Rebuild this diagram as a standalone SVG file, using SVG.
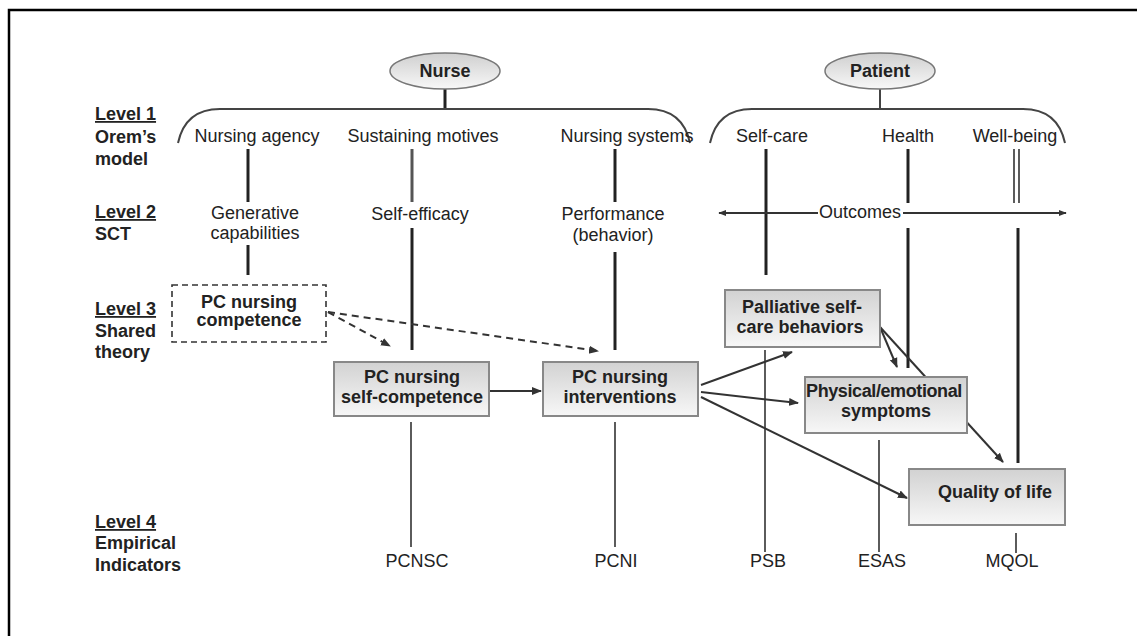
<svg xmlns="http://www.w3.org/2000/svg" width="1137" height="636" viewBox="0 0 1137 636">
<style>
text{font-family:"Liberation Sans",Arial,sans-serif;font-size:18px;fill:#222;}
.b{font-weight:bold;}
.c{text-anchor:middle;}
.u{text-decoration:underline;}
.thick{stroke:#222;stroke-width:3;fill:none;}
.gray{stroke:#555;stroke-width:3;fill:none;}
.thin{stroke:#333;stroke-width:1.6;fill:none;}
.arr{stroke:#333;stroke-width:2;fill:none;marker-end:url(#ah);}
.dash{stroke:#333;stroke-width:2;fill:none;stroke-dasharray:7 5;marker-end:url(#ah);}
.box{fill:url(#g);stroke:#888;stroke-width:2;}
.brace{stroke:#444;stroke-width:2;fill:none;}
</style>
<defs>
<linearGradient id="g" x1="0" y1="0" x2="0" y2="1">
<stop offset="0" stop-color="#d2d2d2"/>
<stop offset="1" stop-color="#f7f7f7"/>
</linearGradient>
<linearGradient id="ge" x1="0" y1="0" x2="0" y2="1">
<stop offset="0" stop-color="#cfcfcf"/>
<stop offset="1" stop-color="#f8f8f8"/>
</linearGradient>
<marker id="ah" viewBox="0 0 10 10" refX="9" refY="5" markerWidth="5" markerHeight="5" orient="auto" markerUnits="strokeWidth">
<path d="M0,1 L10,5 L0,9 Z" fill="#333"/>
</marker>
<marker id="endm" viewBox="0 0 10 10" refX="9" refY="5" markerWidth="4" markerHeight="4" orient="auto" markerUnits="strokeWidth">
<path d="M0,1 L10,5 L0,9 Z" fill="#333"/>
</marker>
</defs>
<rect width="1137" height="636" fill="#fff"/>
<path d="M9,636 V10 H1137" stroke="#000" stroke-width="2.5" fill="none"/>

<g id="levels">
<text class="b u" x="95" y="120">Level 1</text>
<text class="b" x="95" y="143">Orem’s</text>
<text class="b" x="95" y="165">model</text>
<text class="b u" x="95" y="218">Level 2</text>
<text class="b" x="95" y="240">SCT</text>
<text class="b u" x="95" y="315">Level 3</text>
<text class="b" x="95" y="337">Shared</text>
<text class="b" x="95" y="358">theory</text>
<text class="b u" x="95" y="528">Level 4</text>
<text class="b" x="95" y="549">Empirical</text>
<text class="b" x="95" y="571">Indicators</text>
</g>

<g id="connectors">
<line class="thick" x1="445" y1="89" x2="445" y2="109"/>
<line class="brace" x1="880" y1="89" x2="880" y2="109"/>
<path class="brace" d="M178,143 C183,120 198,109 220,109 H648 C670,109 685,120 690,143"/>
<path class="brace" d="M710,143 C715,120 730,109 752,109 H1023 C1045,109 1060,120 1065,143"/>
<line class="thick" x1="248" y1="149" x2="248" y2="202"/>
<line class="gray" x1="412" y1="149" x2="412" y2="202"/>
<line class="thick" x1="615" y1="149" x2="615" y2="202"/>
<line class="thick" x1="766" y1="149" x2="766" y2="275"/>
<line class="thick" x1="908" y1="149" x2="908" y2="203"/>
<line class="thin" x1="1014" y1="149" x2="1014" y2="203"/>
<line class="thin" x1="1019" y1="149" x2="1019" y2="203"/>
<line class="thin" x1="818" y1="213" x2="719" y2="213" marker-end="url(#endm)" style="stroke-width:2"/>
<line class="thin" x1="903" y1="213" x2="1066" y2="213" marker-end="url(#endm)" style="stroke-width:2"/>
<line class="thick" x1="248" y1="245" x2="248" y2="275"/>
<line class="thick" x1="412" y1="228" x2="412" y2="350"/>
<line class="thick" x1="615" y1="252" x2="615" y2="350"/>
<line class="thick" x1="908" y1="228" x2="908" y2="368"/>
<line class="thick" x1="1018" y1="228" x2="1018" y2="463"/>
<line class="dash" x1="328" y1="312" x2="390" y2="346"/>
<line class="dash" x1="328" y1="312" x2="598" y2="351"/>
<line class="arr" x1="489" y1="391" x2="541" y2="391"/>
<line class="arr" x1="701" y1="385" x2="792" y2="352"/>
<line class="arr" x1="701" y1="392" x2="798" y2="403"/>
<line class="arr" x1="701" y1="397" x2="907" y2="498"/>
<line class="arr" x1="880" y1="327" x2="897" y2="367"/>
<line class="arr" x1="880" y1="327" x2="1003" y2="462"/>
<line class="thin" x1="411" y1="422" x2="411" y2="547"/>
<line class="thin" x1="615" y1="422" x2="615" y2="547"/>
<line class="thin" x1="765" y1="350" x2="765" y2="552"/>
<line class="thin" x1="879" y1="440" x2="879" y2="552"/>
<line class="thin" x1="1016" y1="533" x2="1016" y2="553"/>
</g>

<g id="nurse">
<ellipse cx="445" cy="71" rx="55" ry="18" fill="url(#ge)" stroke="#777" stroke-width="1.5"/>
<text class="b c" x="445" y="77">Nurse</text>
</g>
<g id="patient">
<ellipse cx="880" cy="71" rx="55" ry="18" fill="url(#ge)" stroke="#777" stroke-width="1.5"/>
<text class="b c" x="880" y="77">Patient</text>
</g>

<g id="level1-texts">
<text class="c" x="257" y="142">Nursing agency</text>
<text class="c" x="423" y="142">Sustaining motives</text>
<text class="c" x="627" y="142">Nursing systems</text>
<text class="c" x="772" y="142">Self-care</text>
<text class="c" x="908" y="142">Health</text>
<text class="c" x="1015" y="142">Well-being</text>
</g>

<g id="level2-texts">
<text class="c" x="255" y="219">Generative</text>
<text class="c" x="255" y="239">capabilities</text>
<text class="c" x="420" y="220">Self-efficacy</text>
<text class="c" x="613" y="220">Performance</text>
<text class="c" x="613" y="241">(behavior)</text>
<text class="c" x="860" y="218">Outcomes</text>
</g>

<g id="pc-competence">
<rect x="172" y="285" width="154" height="57" fill="#fff" stroke="#333" stroke-width="1.6" stroke-dasharray="6 4"/>
<text class="b c" x="249" y="308">PC nursing</text>
<text class="b c" x="249" y="326">competence</text>
</g>

<g id="pc-self-competence">
<rect class="box" x="334" y="362" width="155" height="54"/>
<text class="b c" x="412" y="383">PC nursing</text>
<text class="b c" x="412" y="403">self-competence</text>
</g>

<g id="pc-interventions">
<rect class="box" x="543" y="362" width="155" height="54"/>
<text class="b c" x="620" y="383">PC nursing</text>
<text class="b c" x="620" y="403">interventions</text>
</g>

<g id="palliative">
<rect class="box" x="725" y="290" width="155" height="57"/>
<text class="b c" x="802" y="313">Palliative self-</text>
<text class="b c" x="800" y="333">care behaviors</text>
</g>

<g id="symptoms">
<rect class="box" x="805" y="377" width="162" height="56"/>
<text class="b c" x="884" y="397" style="letter-spacing:-0.4px">Physical/emotional</text>
<text class="b c" x="886" y="417">symptoms</text>
</g>

<g id="qol">
<rect class="box" x="909" y="469" width="156" height="56"/>
<text class="b c" x="995" y="498">Quality of life</text>
</g>

<g id="indicators">
<text class="c" x="417" y="567">PCNSC</text>
<text class="c" x="616" y="567">PCNI</text>
<text class="c" x="768" y="567">PSB</text>
<text class="c" x="882" y="567">ESAS</text>
<text class="c" x="1012" y="567">MQOL</text>
</g>
</svg>
